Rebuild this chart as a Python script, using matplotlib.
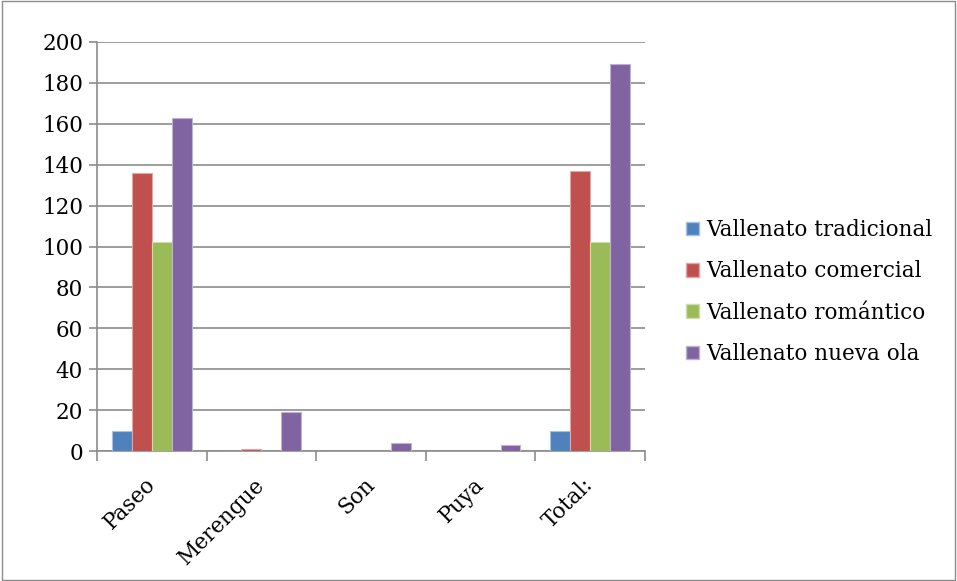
import numpy as np
import matplotlib.pyplot as plt
from matplotlib.patches import Patch

categories = ['Paseo', 'Merengue', 'Son', 'Puya', 'Total:']
series = ['Vallenato tradicional', 'Vallenato comercial',
          'Vallenato romántico', 'Vallenato nueva ola']
tradicional = [10, 0, 0, 0, 10]
comercial = [136, 1, 0, 0, 137]
romantico = [102, 0, 0, 0, 102]
nueva_ola = [163, 19, 4, 3, 189]
values = [tradicional, comercial, romantico, nueva_ola]
colors = ['#4F81BD', '#C0504D', '#9BBB59', '#8064A2']
edges = ['#A7C0DE', '#DFA8A6', '#CDDDAC', '#BFB1D0']

plt.rcParams['font.family'] = ['DejaVu Serif']
fs = 15.5

fig = plt.figure(figsize=(9.57, 5.81), dpi=100)
ax = fig.add_axes([97 / 957, 1 - 451 / 581, 548 / 957, 409 / 581])

x = np.arange(len(categories))
w = 1 / 5.5
for i, (vals, c, ec) in enumerate(zip(values, colors, edges)):
    ax.bar(x + (i - 1.5) * w, vals, width=w, color=c, edgecolor=ec,
           linewidth=0.8, zorder=3)

ax.set_xlim(-0.5, len(categories) - 0.5)
ax.set_ylim(0, 200)
ax.set_yticks(range(0, 201, 20))
ax.grid(axis='y', color='#8C8C8C', linewidth=1.2, zorder=0)
ax.set_xticks(np.arange(-0.5, len(categories), 1.0))
ax.set_xticklabels([])
ax.set_xticks(x, minor=True)
ax.set_xticklabels(categories, minor=True, rotation=45, ha='right', va='center',
                   rotation_mode='anchor', fontsize=fs)
ax.tick_params(axis='x', which='minor', length=0, pad=22)
ax.tick_params(axis='x', which='major', length=7, width=1.2, color='#8C8C8C', direction='out')
ax.tick_params(axis='y', length=6, width=1.2, color='#8C8C8C', labelsize=fs, pad=4)
for s in ['top', 'right']:
    ax.spines[s].set_visible(False)
for s in ['left', 'bottom']:
    ax.spines[s].set_color('#8C8C8C')
    ax.spines[s].set_linewidth(1.2)

handles = [Patch(facecolor=c, edgecolor=ec) for c, ec in zip(colors, edges)]
fig.legend(handles, series, loc='center left', bbox_to_anchor=(675 / 957, 1 - 292 / 581),
           frameon=False, fontsize=fs, handlelength=0.6, handleheight=0.6,
           handletextpad=0.35, labelspacing=0.9, borderpad=0)

fig.patches.append(plt.Rectangle((0.002, 0.002), 0.996, 0.996, transform=fig.transFigure,
                                 fill=False, edgecolor='#8C8C8C', linewidth=1))

fig.savefig('out.png', dpi=100)
